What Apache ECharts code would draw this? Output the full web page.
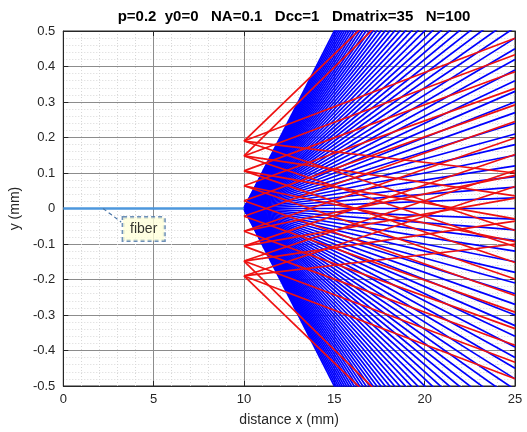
<!DOCTYPE html>
<html>
<head>
<meta charset="utf-8">
<script src="https://cdn.jsdelivr.net/npm/echarts@6/dist/echarts.min.js"></script>
<style>
  html, body { margin: 0; padding: 0; background: #fff; }
  #chart { width: 527px; height: 432px; }
</style>
</head>
<body>
<div id="chart"></div>
<script>
// tick labels
const xTicks = [0, 5, 10, 15, 20, 25];
const yTicks = [-0.5, -0.4, -0.3, -0.2, -0.1, 0, 0.1, 0.2, 0.3, 0.4, 0.5];

// fiber: runs along the axis up to its tip
const fiberX = [0, 10];
const fiberY = [0, 0];

// blue fan leaving the fiber tip (x = 10, y = 0), slope of every ray
const fanStartX = 10;
const fanEndX = 25;
const blueSlopes = [
  -0.100, -0.098, -0.096, -0.094, -0.092, -0.090, -0.088, -0.086, -0.084, -0.082,
  -0.080, -0.078, -0.076, -0.074, -0.072, -0.070, -0.068, -0.066, -0.064, -0.062,
  -0.060, -0.058, -0.056, -0.054, -0.052, -0.050, -0.048, -0.046, -0.044, -0.042,
  -0.040, -0.038, -0.036, -0.034, -0.032, -0.030, -0.028, -0.026, -0.024, -0.022,
  -0.020, -0.018, -0.016, -0.014, -0.012, -0.010, -0.008, -0.006, -0.004, -0.002,
  0.000,
  0.002, 0.004, 0.006, 0.008, 0.010, 0.012, 0.014, 0.016, 0.018, 0.020,
  0.022, 0.024, 0.026, 0.028, 0.030, 0.032, 0.034, 0.036, 0.038, 0.040,
  0.042, 0.044, 0.046, 0.048, 0.050, 0.052, 0.054, 0.056, 0.058, 0.060,
  0.062, 0.064, 0.066, 0.068, 0.070, 0.072, 0.074, 0.076, 0.078, 0.080,
  0.082, 0.084, 0.086, 0.088, 0.090, 0.092, 0.094, 0.096, 0.098, 0.100
];

// red rays: start height at x = 10 and slope
const redStartY = [
  0.190, 0.148, 0.106, 0.064, 0.022, -0.022, -0.064, -0.106, -0.148, -0.190,
  0.190, 0.148, 0.106, 0.064, 0.022, -0.022, -0.064, -0.106, -0.148, -0.190,
  0.190, 0.148, 0.106, 0.064, -0.190, -0.148, -0.106, -0.064,
  0.190, 0.148, -0.190, -0.148
];
const redSlope = [
  0.0193, 0.0190, 0.0186, 0.0183, 0.0180, 0.0178, 0.0175, 0.0172, 0.0170, 0.0168,
  -0.0168, -0.0170, -0.0172, -0.0175, -0.0178, -0.0180, -0.0183, -0.0186, -0.0190, -0.0193,
  -0.0060, -0.0075, -0.0090, -0.0105, 0.0060, 0.0075, 0.0090, 0.0105,
  0.0490, 0.0500, -0.0490, -0.0500
];

// "fiber" callout
const calloutTip = [2.2, 0];
const calloutBox = [4.45, -0.058];

const series = [];

blueSlopes.forEach(function (s) {
  series.push({
    type: 'line', symbol: 'none', silent: true, animation: false,
    lineStyle: { color: '#0000ff', width: 1.7 },
    data: [[fanStartX, 0], [fanEndX, s * (fanEndX - fanStartX)]]
  });
});

redStartY.forEach(function (y0, i) {
  series.push({
    type: 'line', symbol: 'none', silent: true, animation: false,
    lineStyle: { color: '#ee1111', width: 1.7 },
    data: [[fanStartX, y0], [fanEndX, y0 + redSlope[i] * (fanEndX - fanStartX)]]
  });
});

series.push({
  type: 'line', symbol: 'none', silent: true, animation: false,
  lineStyle: { color: '#4d97dd', width: 2.5 },
  data: fiberX.map(function (x, i) { return [x, fiberY[i]]; })
});

series.push({
  type: 'line', symbol: 'none', silent: true, animation: false,
  lineStyle: { color: '#4a76a8', width: 1.2, type: [4, 3] },
  data: [calloutTip, [calloutBox[0] - 1.25, calloutBox[1] + 0.02]]
});

series.push({
  type: 'scatter', symbolSize: 0, silent: true, animation: false,
  data: [calloutBox],
  label: {
    show: true, position: 'inside', formatter: 'fiber',
    color: '#000', fontSize: 14, fontFamily: 'Liberation Sans, Arial, sans-serif',
    backgroundColor: '#ffffd9', borderColor: '#4a76a8', borderWidth: 1.5,
    borderType: [4, 3], padding: [5, 7, 4, 7]
  }
});

const chart = echarts.init(document.getElementById('chart'));
const font = 'Liberation Sans, Arial, sans-serif';

function frameAxis(position, extra) {
  return Object.assign({
    type: 'value', position: position,
    axisLine: { show: true, onZero: false, lineStyle: { color: '#262626' } },
    axisTick: { show: true, inside: true, length: 5, lineStyle: { color: '#262626' } },
    minorTick: { show: false, splitNumber: 5 },
    axisLabel: { show: false },
    splitLine: { show: false }
  }, extra);
}

chart.setOption({
  animation: false,
  title: {
    text: 'p=0.2  y0=0   NA=0.1   Dcc=1   Dmatrix=35   N=100',
    left: 289, top: 4, textAlign: 'center',
    textStyle: { fontSize: 15, fontWeight: 'bold', color: '#000', fontFamily: font }
  },
  grid: { left: 63, top: 31, width: 452, height: 355, show: true, borderColor: '#262626', borderWidth: 1 },
  xAxis: [
    frameAxis('bottom', {
      min: xTicks[0], max: xTicks[xTicks.length - 1], interval: 5,
      name: 'distance x (mm)', nameLocation: 'middle', nameGap: 27,
      nameTextStyle: { fontSize: 14, color: '#262626', fontFamily: font },
      axisLabel: { show: true, color: '#262626', fontSize: 13, margin: 7, fontFamily: font },
      splitLine: { show: true, lineStyle: { color: '#8c8c8c', width: 1 } },
      minorSplitLine: { show: true, lineStyle: { color: '#d8d8d8', type: [1, 2] } }
    }),
    frameAxis('top', { min: xTicks[0], max: xTicks[xTicks.length - 1], interval: 5 })
  ],
  yAxis: [
    frameAxis('left', {
      min: yTicks[0], max: yTicks[yTicks.length - 1], interval: 0.1,
      name: 'y (mm)', nameLocation: 'middle', nameGap: 30, nameRotate: 90,
      nameTextStyle: { fontSize: 14, color: '#262626', fontFamily: font },
      axisLabel: {
        show: true, color: '#262626', fontSize: 13, margin: 8, fontFamily: font,
        formatter: function (v) { return String(Math.round(v * 10) / 10); }
      },
      splitLine: { show: true, lineStyle: { color: '#8c8c8c', width: 1 } },
      minorSplitLine: { show: true, lineStyle: { color: '#d8d8d8', type: [1, 2] } }
    }),
    frameAxis('right', { min: yTicks[0], max: yTicks[yTicks.length - 1], interval: 0.1 })
  ],
  series: series
});
</script>
</body>
</html>
